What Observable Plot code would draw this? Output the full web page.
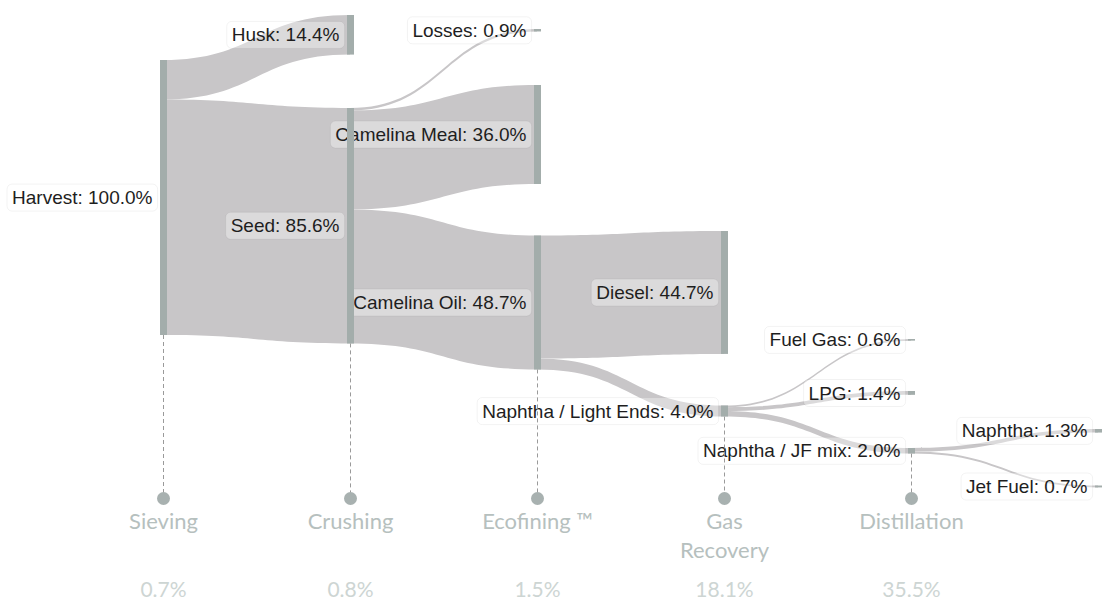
<!DOCTYPE html>
<html><head><meta charset="utf-8">
<script src="https://cdn.jsdelivr.net/npm/d3@7"></script>
<script src="https://cdn.jsdelivr.net/npm/@observablehq/plot@0.6"></script>
<style>body{margin:0;background:#fff;} #chart svg{display:block;}</style>
</head><body><div id="chart"></div>
<script>
// ---- DATA ----
const nodeNames  = ["Harvest","Husk","Seed","Losses","Camelina Meal","Camelina Oil","Diesel","Naphtha / Light Ends","Fuel Gas","LPG","Naphtha / JF mix","Naphtha","Jet Fuel"];
const nodeStage  = [0,1,1,2,2,2,3,3,4,4,4,5,5];
const nodeValues = [100.0,14.4,85.6,0.9,36.0,48.7,44.7,4.0,0.6,1.4,2.0,1.3,0.7];

const linkSources = ["Harvest","Harvest","Seed","Seed","Seed","Camelina Oil","Camelina Oil","Naphtha / Light Ends","Naphtha / Light Ends","Naphtha / Light Ends","Naphtha / JF mix","Naphtha / JF mix"];
const linkTargets = ["Husk","Seed","Losses","Camelina Meal","Camelina Oil","Diesel","Naphtha / Light Ends","Fuel Gas","LPG","Naphtha / JF mix","Naphtha","Jet Fuel"];
const linkValues  = [14.4,85.6,0.9,36.0,48.7,44.7,4.0,0.6,1.4,2.0,1.3,0.7];

const stageNames  = ["Sieving","Crushing","Ecofining \u2122","Gas\nRecovery","Distillation"];
const stageLosses = [0.7,0.8,1.5,18.1,35.5];

// ---- LAYOUT (not data) ----
const W = 1104, H = 601, PX = 2.75; // pixels per percent point
const nodeTopPx = {"Harvest":60,"Husk":15,"Seed":108,"Losses":29,"Camelina Meal":85,"Camelina Oil":235.5,"Diesel":231,"Naphtha / Light Ends":405.5,"Fuel Gas":339,"LPG":391,"Naphtha / JF mix":448,"Naphtha":429,"Jet Fuel":485.5};
const markerY = 498/PX, stageLabelY = 508/PX, lossLabelY = 590/PX;

const nodes = nodeNames.map((name,i)=>({name, stage:nodeStage[i], value:nodeValues[i], top:nodeTopPx[name]/PX}));
nodes.forEach(n=>{ n.bottom = n.top + n.value; n.mid = n.top + n.value/2; n.outOff = 0; n.inOff = 0; });
const byName = new Map(nodes.map(n=>[n.name,n]));

const linkRows = [];
linkSources.forEach((s,i)=>{
  const S = byName.get(s), T = byName.get(linkTargets[i]), v = linkValues[i];
  const sy = S.top + S.outOff, ty = T.top + T.inOff;
  S.outOff += v; T.inOff += v;
  linkRows.push({id:i, x:S.stage, y1:sy, y2:sy+v});
  linkRows.push({id:i, x:T.stage, y1:ty, y2:ty+v});
});

const stages = stageNames.map((name,i)=>({
  stage:i, name, loss:stageLosses[i],
  bottom: d3.max(nodes.filter(n=>n.stage===i), n=>n.bottom)
}));

const plot = Plot.plot({
  width: W, height: H,
  margin: 0,
  style: {fontFamily: "'Liberation Sans', Arial, sans-serif", background: "#fff"},
  x: {type:"linear", domain:[0,5], range:[163,1098], axis:null},
  y: {domain:[0, H/PX], range:[0, H], axis:null},
  marks: [
    Plot.areaY(linkRows, {x:"x", y1:"y1", y2:"y2", z:"id", curve:"bump-x", fill:"#c8c6c8"}),
    Plot.text(nodes, {x:"stage", y:"mid", text:d=>`${d.name}: ${d.value.toFixed(1)}%`, textAnchor:"end", dx:-11,
      fontSize:19, fill:"#1e1e1e", ariaDescription:"nodelabels"}),
    Plot.ruleX(stages, {x:"stage", y1:"bottom", y2:()=>markerY, stroke:"#9a9a9a", strokeDasharray:"4,3", strokeWidth:1}),
    Plot.ruleX(nodes, {x:"stage", y1:"top", y2:"bottom", stroke:"#a3adab", strokeWidth:7}),
    Plot.dot(stages, {x:"stage", y:()=>markerY, r:6.5, fill:"#a8b1b0", stroke:null}),
    Plot.text(stages, {x:"stage", y:()=>stageLabelY, text:"name", lineAnchor:"top", lineHeight:1.32,
      fontSize:22, fontFamily:"Lato, 'Open Sans', sans-serif", fill:"#b6c0be"}),
    Plot.text(stages, {x:"stage", y:()=>lossLabelY, text:d=>`${d.loss.toFixed(1)}%`,
      fontSize:21, fontFamily:"Lato, 'Open Sans', sans-serif", fill:"#cdd5d3"})
  ]
});
document.getElementById("chart").appendChild(plot);

// label boxes behind node labels
d3.select(plot).selectAll("g[aria-description=nodelabels] text").each(function(){
  const bb = this.getBBox();
  const r = document.createElementNS("http://www.w3.org/2000/svg","rect");
  r.setAttribute("x", bb.x-5); r.setAttribute("y", bb.y-3);
  r.setAttribute("width", bb.width+10); r.setAttribute("height", bb.height+6);
  r.setAttribute("rx", 5);
  const t = this.getAttribute("transform"); if (t) r.setAttribute("transform", t);
  r.setAttribute("fill", "#fff"); r.setAttribute("fill-opacity", 0.35);
  r.setAttribute("stroke", "#000"); r.setAttribute("stroke-opacity", 0.05);
  this.parentNode.insertBefore(r, this);
});
</script>
</body></html>
